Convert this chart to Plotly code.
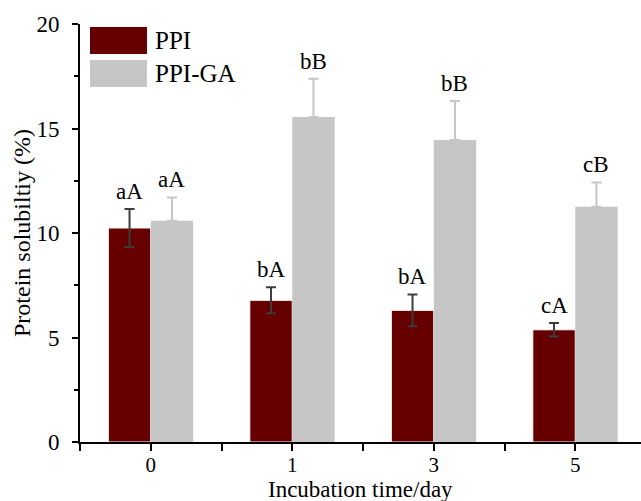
import plotly.graph_objects as go

# Incubation days and protein solubility (%) with standard deviations
days = ["0", "1", "3", "5"]
ppi_vals = [10.24, 6.78, 6.30, 5.37]
ppi_err = [0.91, 0.62, 0.76, 0.32]
ppiga_vals = [10.59, 15.55, 14.45, 11.26]
ppiga_err = [1.11, 1.83, 1.87, 1.16]
ppi_letters = ["aA", "bA", "bA", "cA"]
ppiga_letters = ["aA", "bB", "bB", "cB"]

RED = "#660000"
GREY = "#c6c6c6"
FONT = "Liberation Serif, Times New Roman, serif"

pos = list(range(len(days)))

fig = go.Figure()
fig.add_trace(go.Bar(
    x=pos, y=ppi_vals, name="PPI",
    marker=dict(color=RED, line=dict(color="white", width=1)),
    error_y=dict(type="data", array=ppi_err, symmetric=True,
                 color="#3c3c3c", thickness=2, width=5),
))
fig.add_trace(go.Bar(
    x=pos, y=ppiga_vals, name="PPI-GA",
    marker=dict(color=GREY, line=dict(width=0)),
    error_y=dict(type="data", array=ppiga_err, arrayminus=[0] * len(days),
                 symmetric=False, color=GREY, thickness=2, width=5),
))

# significance letters above the error bars
annotations = []
for i in pos:
    for dx, v, e, t in ((-0.15, ppi_vals[i], ppi_err[i], ppi_letters[i]),
                        (0.15, ppiga_vals[i], ppiga_err[i], ppiga_letters[i])):
        annotations.append(dict(
            x=i + dx, y=v + e, xref="x", yref="y", text=t, showarrow=False,
            xanchor="center", yanchor="bottom", yshift=3,
            font=dict(family=FONT, size=23, color="black"),
        ))

# axis titles
W, H = 641, 501
L, R, T, B = 80, 0, 24, 59
pw, ph = W - L - R, H - T - B


def px(x):
    return (x - L) / pw


def py(y):
    return (H - B - y) / ph


annotations.append(dict(
    x=0.5, y=py(489.5), xref="paper", yref="paper", text="Incubation time/day",
    showarrow=False, xanchor="center", yanchor="middle", borderpad=0,
    font=dict(family=FONT, size=23, color="black"),
))
annotations.append(dict(
    x=px(22), y=0.5, xref="paper", yref="paper", text="Protein solubiltiy (%)",
    showarrow=False, xanchor="center", yanchor="middle", textangle=-90,
    font=dict(family=FONT, size=24, color="black"),
))

# legend drawn with large swatches
shapes = []
for (y0, y1), col, label in (((27, 54), RED, "PPI"), ((60, 87), GREY, "PPI-GA")):
    shapes.append(dict(type="rect", xref="paper", yref="paper",
                       x0=px(90), x1=px(147), y0=py(y1), y1=py(y0),
                       fillcolor=col, line=dict(width=0)))
    annotations.append(dict(
        x=px(153), y=py((y0 + y1) / 2), xref="paper", yref="paper", text=label,
        showarrow=False, xanchor="left", yanchor="middle",
        font=dict(family=FONT, size=25, color="black"),
    ))

fig.update_layout(
    width=W, height=H,
    margin=dict(l=L, r=R, t=T, b=B, pad=0),
    paper_bgcolor="white", plot_bgcolor="white",
    barmode="group", bargap=0.4, bargroupgap=0,
    showlegend=False,
    font=dict(family=FONT, size=23, color="black"),
    annotations=annotations, shapes=shapes,
)
fig.update_xaxes(
    range=[-0.5, -0.5 + pw / 141.5], tickvals=pos, ticktext=days,
    showline=True, linecolor="black", linewidth=2,
    ticks="outside", ticklen=7, tickwidth=2, tickcolor="black",
    minor=dict(tickvals=[-0.5, 0.5, 1.5, 2.5], ticks="outside", ticklen=7,
               tickwidth=2, tickcolor="black"),
    showgrid=False, zeroline=False,
    tickfont=dict(family=FONT, size=21), ticklabelstandoff=-4,
)
fig.update_yaxes(
    range=[0, 20], dtick=5, tick0=0,
    showline=True, linecolor="black", linewidth=2,
    ticks="outside", ticklen=6, tickwidth=2, tickcolor="black",
    minor=dict(dtick=2.5, ticks="outside", ticklen=4, tickwidth=2,
               tickcolor="black"),
    showgrid=False, zeroline=False,
    tickfont=dict(family=FONT, size=23), ticklabelstandoff=8,
)

fig.write_html("out.html")
